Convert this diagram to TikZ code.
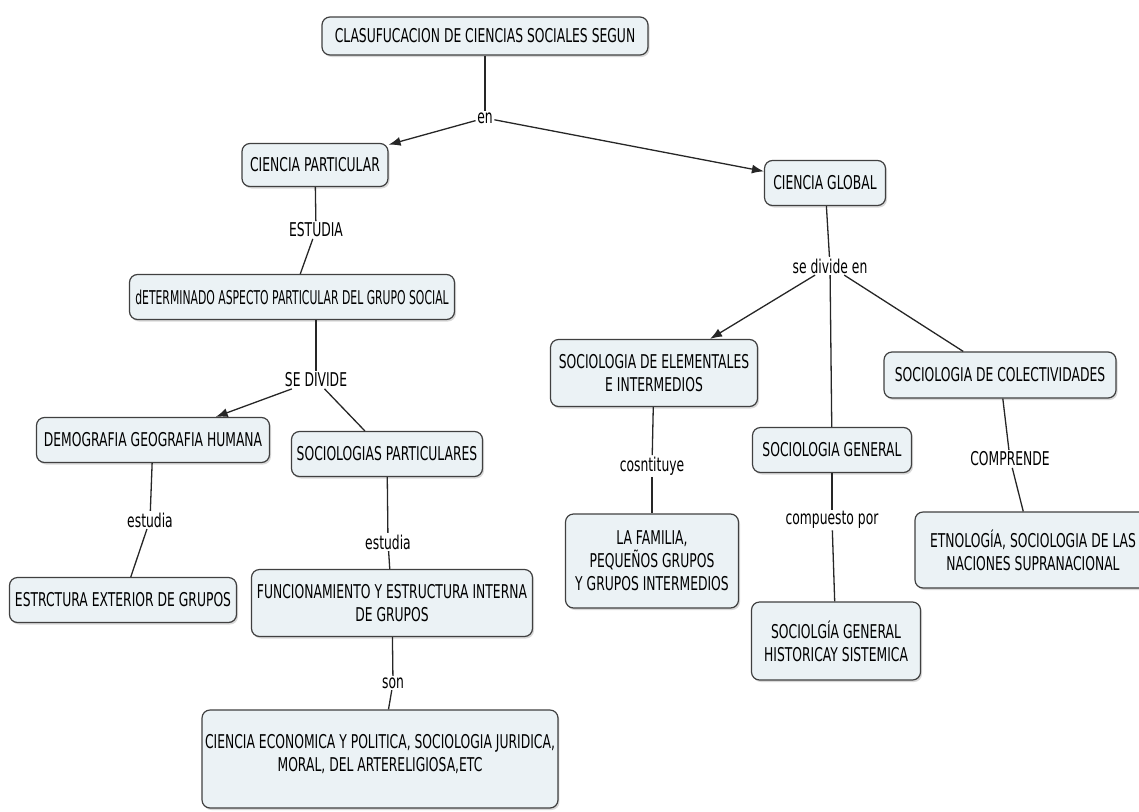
\documentclass[tikz,border=0pt]{standalone}
\usepackage{fontspec}
\setmainfont{DejaVu Sans}[FakeStretch=0.65]
\usetikzlibrary{arrows.meta,shadows}

\definecolor{cmfill}{HTML}{EBF2F5}

\begin{document}
\begin{tikzpicture}[x=1pt,y=-1pt,
    concept/.style={draw=black!75, line width=1.2pt, fill=cmfill,
        rounded corners=8pt, align=center, inner sep=3pt,
        font=\fontsize{19}{23}\selectfont,
        drop shadow={shadow xshift=1.5pt, shadow yshift=-2pt, opacity=0.3}},
    linker/.style={fill=white, inner sep=1.5pt, font=\fontsize{19}{23}\selectfont},
    link/.style={line width=1.3pt, draw=black!85},
    linkarrow/.style={link, -{Latex[length=12pt,width=9pt]}}]

        \useasboundingbox (0,0) rectangle (1139,811);

        % concepts
        \node[concept, minimum width=326pt, minimum height=38pt] (root) at (485,36) {CLASUFUCACION DE CIENCIAS SOCIALES SEGUN};
        \node[concept, minimum width=146pt, minimum height=43pt] (cpart) at (315,165) {CIENCIA PARTICULAR};
        \node[concept, minimum width=121pt, minimum height=45pt] (cglob) at (825,183) {CIENCIA GLOBAL};
        \node[concept, minimum width=325pt, minimum height=45pt] (aspecto) at (292,297) {\addfontfeatures{FakeStretch=0.57}dETERMINADO ASPECTO PARTICULAR DEL GRUPO SOCIAL};
        \node[concept, minimum width=233pt, minimum height=45pt] (demog) at (153,440) {DEMOGRAFIA GEOGRAFIA HUMANA};
        \node[concept, minimum width=191pt, minimum height=45pt] (socpart) at (387,454) {SOCIOLOGIAS PARTICULARES};
        \node[concept, minimum width=227pt, minimum height=45pt] (exterior) at (123,600) {ESTRCTURA EXTERIOR DE GRUPOS};
        \node[concept, minimum width=281pt, minimum height=67pt] (interna) at (392,603) {FUNCIONAMIENTO Y ESTRUCTURA INTERNA\\DE GRUPOS};
        \node[concept, minimum width=349pt, minimum height=98pt] (ciencias) at (380,759) {CIENCIA ECONOMICA Y POLITICA, SOCIOLOGIA JURIDICA,\\MORAL, DEL ARTERELIGIOSA,ETC\\[-10pt]\mbox{}};
        \node[concept, minimum width=207pt, minimum height=67pt] (elem) at (654,373) {SOCIOLOGIA DE ELEMENTALES\\E INTERMEDIOS};
        \node[concept, minimum width=159pt, minimum height=45pt] (sgen) at (832,450) {SOCIOLOGIA GENERAL};
        \node[concept, minimum width=232pt, minimum height=46pt] (colect) at (1000,375) {SOCIOLOGIA DE COLECTIVIDADES};
        \node[concept, minimum width=173pt, minimum height=94pt] (familia) at (652,561) {LA FAMILIA,\\PEQUEÑOS GRUPOS\\Y GRUPOS INTERMEDIOS};
        \node[concept, minimum width=169pt, minimum height=78pt] (historica) at (836,641) {SOCIOLGÍA GENERAL\\HISTORICAY SISTEMICA};
        \node[concept, minimum width=236pt, minimum height=76pt] (etno) at (1033,550) {ETNOLOGÍA, SOCIOLOGIA DE LAS\\NACIONES SUPRANACIONAL};

        % linking phrases
        \node[linker] (en) at (485,118) {en};
        \node[linker] (estudiaA) at (316,230) {ESTUDIA};
        \node[linker] (sedivide) at (316,380) {SE DIVIDE};
        \node[linker] (estudiaB) at (150,520) {estudia};
        \node[linker] (estudiaC) at (388,542) {estudia};
        \node[linker] (son) at (393,683) {son};
        \node[linker] (divideen) at (830,266) {se divide en};
        \node[linker] (constituye) at (652,466) {cosntituye};
        \node[linker] (compuesto) at (832,520) {compuesto por};
        \node[linker] (comprende) at (1010,459) {COMPRENDE};

        % connections
        \draw[link] (root) -- (en);
        \draw[linkarrow] (en) -- (cpart);
        \draw[linkarrow] (en) -- (cglob);

        \draw[link] (cpart) -- (estudiaA);
        \draw[link] (estudiaA) -- (aspecto);
        \draw[link] (aspecto.south -| sedivide) -- (sedivide);
        \draw[linkarrow] (sedivide) -- (demog);
        \draw[link] (sedivide) -- (socpart);

        \draw[link] (demog) -- (estudiaB);
        \draw[link] (estudiaB) -- (exterior);
        \draw[link] (socpart) -- (estudiaC);
        \draw[link] (estudiaC) -- (interna);
        \draw[link] (interna) -- (son);
        \draw[link] (son) -- (ciencias);

        \draw[link] (cglob) -- (divideen);
        \draw[linkarrow] (divideen) -- (elem);
        \draw[link] (divideen) -- (sgen);
        \draw[link] (divideen) -- (colect);

        \draw[link] (elem) -- (constituye);
        \draw[link] (constituye) -- (familia);
        \draw[link] (sgen) -- (compuesto);
        \draw[link] (compuesto) -- (historica);
        \draw[link] (colect) -- (comprende);
        \draw[link] (comprende) -- (etno);

    \end{tikzpicture}
\end{document}
